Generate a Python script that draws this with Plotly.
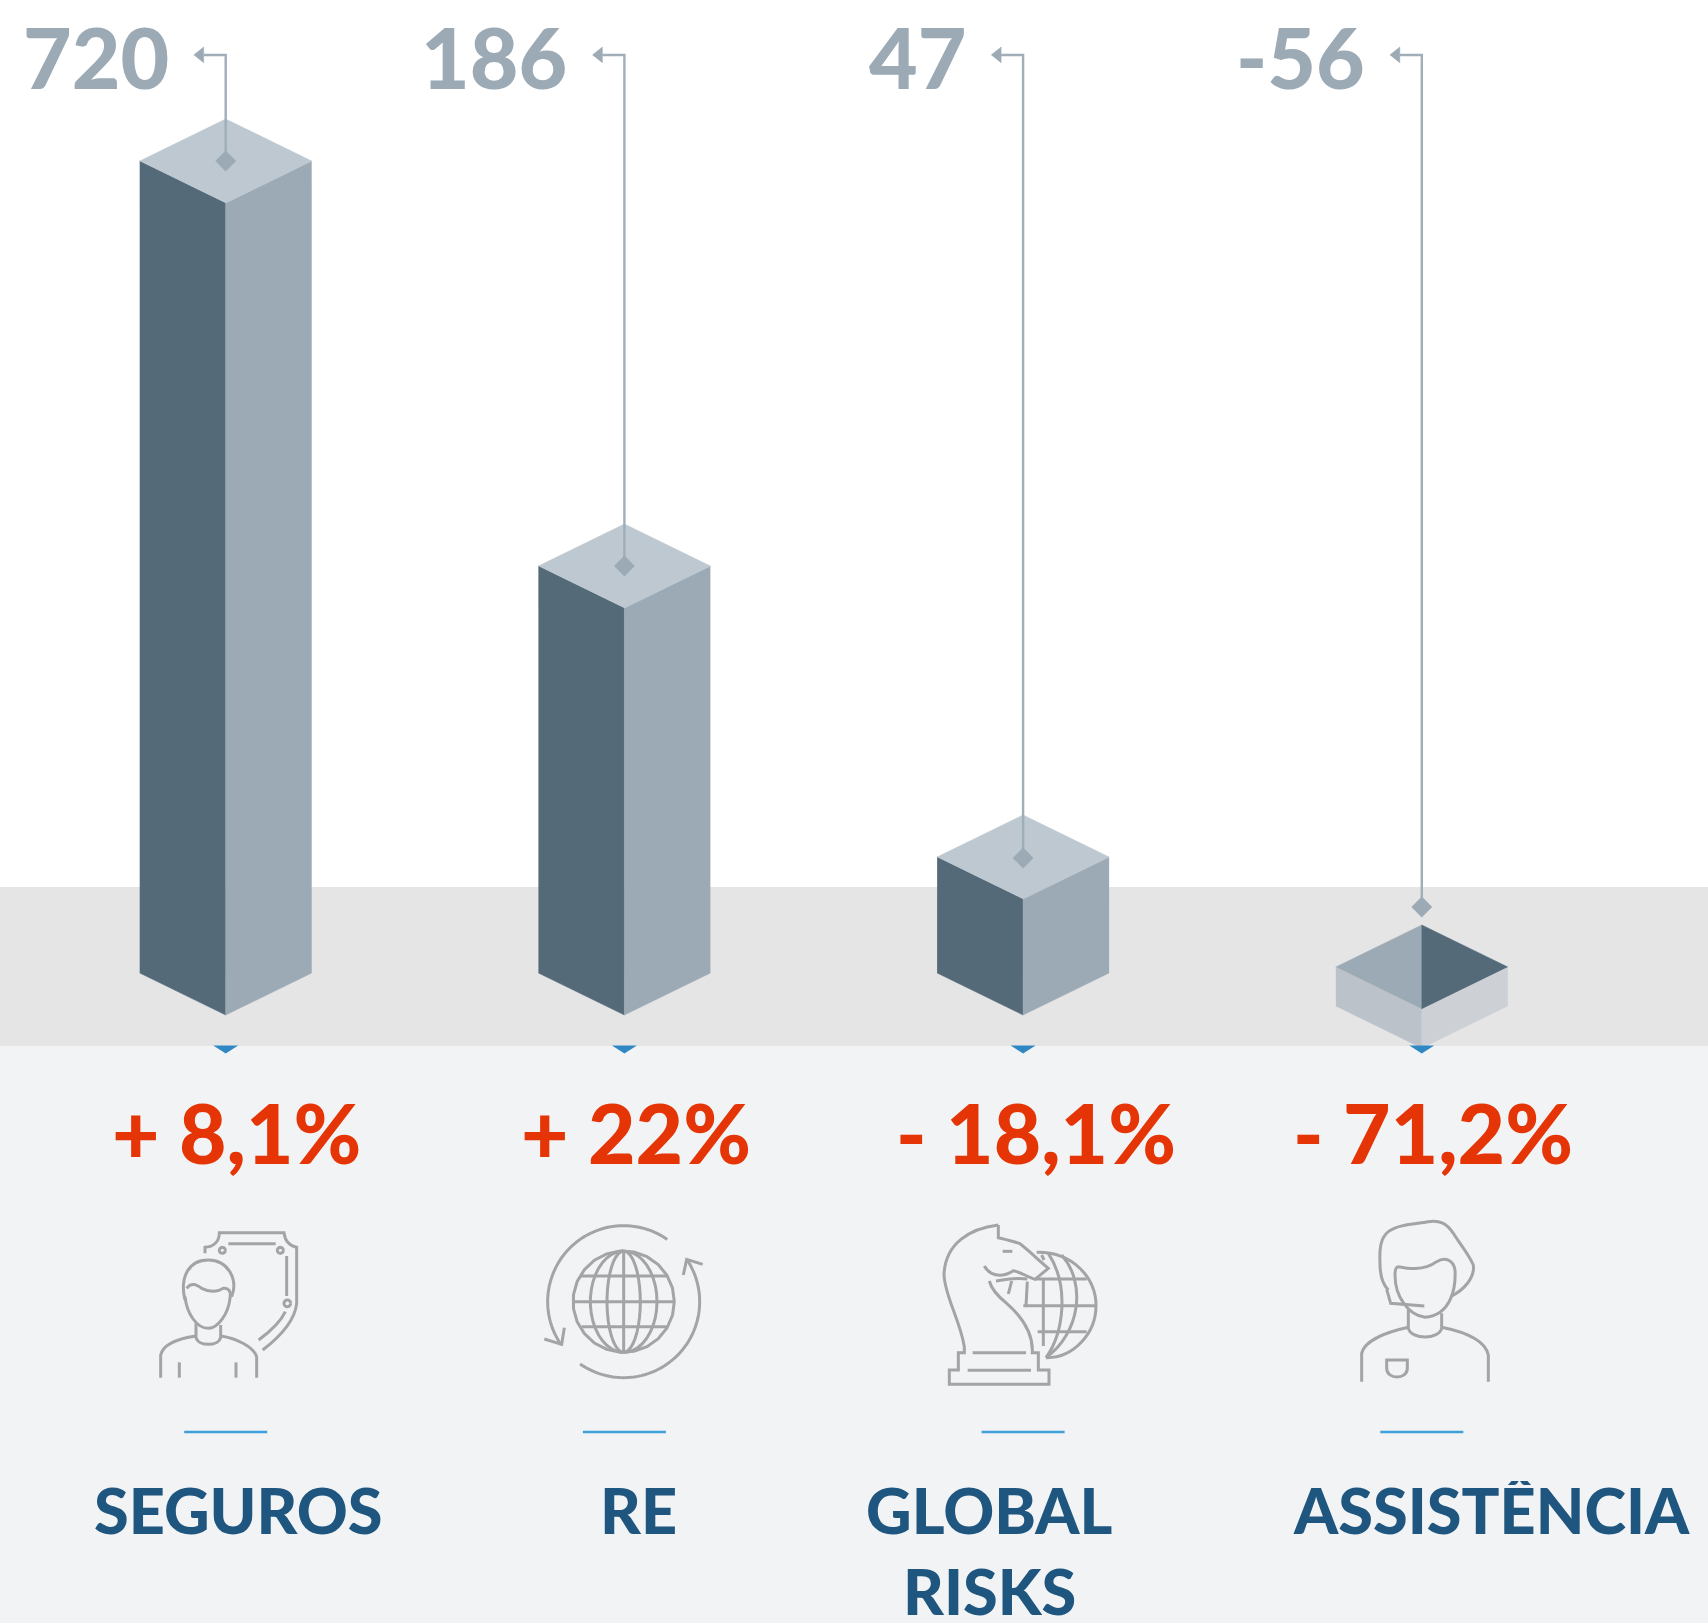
import re
import numpy as np
import plotly.graph_objects as go

# ---------- data ----------
categories = ["SEGUROS", "RE", "GLOBAL<br>RISKS", "ASSISTÊNCIA"]
values = [720, 186, 47, -56]
changes = ["+ 8,1%", "+ 22%", "- 18,1%", "- 71,2%"]
# drawn extent of each column on the picture's (non-proportional) height scale
column_high = [812, 407, 116, 6]
column_low = [0, 0, 0, -33]
marker_level = [812, 407, 115, 66]

# ---------- styles ----------
DARK, MID, LIGHT = "#546a79", "#9caab5", "#bdc8d1"
NEG_L, NEG_R = "#bcc2ca", "#cdd1d6"
LINE = "#a0aeba"
FONT = "Lato"
W, H = 1708, 1623
BASE_PX = 973
SPACING = 398.7
FIRST_PX = 225.7
HW = 86 / SPACING
DEPTH = 42
LEADER_TOP = BASE_PX - 55

fig = go.Figure()


def poly(xs, ys, color):
    fig.add_trace(go.Scatter(x=xs, y=ys, mode="lines", fill="toself", fillcolor=color,
                             line=dict(width=0.5, color=color), hoverinfo="skip", showlegend=False))


for i, (hi, lo) in enumerate(zip(column_high, column_low)):
    if values[i] >= 0:
        poly([i - HW, i, i, i - HW], [hi, hi - DEPTH, lo - DEPTH, lo], DARK)
        poly([i + HW, i, i, i + HW], [hi, hi - DEPTH, lo - DEPTH, lo], MID)
        poly([i - HW, i, i + HW, i], [hi, hi + DEPTH, hi, hi - DEPTH], LIGHT)
    else:
        poly([i - HW, i, i, i - HW], [hi, hi - DEPTH, lo - DEPTH, lo], NEG_L)
        poly([i + HW, i, i, i + HW], [hi, hi - DEPTH, lo - DEPTH, lo], NEG_R)
        poly([i - HW, i, i], [hi, hi + DEPTH, hi - DEPTH], MID)
        poly([i + HW, i, i], [hi, hi + DEPTH, hi - DEPTH], DARK)
    # leader line with arrow and diamond
    tip = i - 32 / SPACING
    fig.add_trace(go.Scatter(x=[i - 22 / SPACING, i, i], y=[LEADER_TOP, LEADER_TOP, marker_level[i]],
                             mode="lines", line=dict(color=LINE, width=2.4), hoverinfo="skip", showlegend=False))
    poly([tip, i - 22 / SPACING, i - 22 / SPACING], [LEADER_TOP, LEADER_TOP + 8, LEADER_TOP - 8], MID)
    fig.add_trace(go.Scatter(x=[i], y=[marker_level[i]], mode="markers",
                             marker=dict(symbol="diamond", size=16, color=MID, line=dict(width=0)),
                             hoverinfo="skip", showlegend=False))

# invisible trace that activates the overlay pixel axes used for decoration
fig.add_trace(go.Scatter(x=[0, W], y=[0, H], xaxis="x2", yaxis="y2", mode="markers",
                         marker=dict(opacity=0), hoverinfo="skip", showlegend=False))

shapes = []


def rect(x0, y0, x1, y1, color, layer="below"):
    shapes.append(dict(type="rect", xref="x2", yref="y2", x0=x0, y0=y0, x1=x1, y1=y1,
                       fillcolor=color, line=dict(width=0), layer=layer))


rect(0, 887, W, 1046, "#e5e5e5")
rect(0, 1046, W, H, "#f2f3f5")

for i in range(4):
    c = FIRST_PX + SPACING * i
    shapes.append(dict(type="path", xref="x2", yref="y2",
                       path=f"M{c-12.5},1045.5 L{c+12.5},1045.5 L{c},1053.5 Z",
                       fillcolor="#2f88c4", line=dict(width=0), layer="above"))
    shapes.append(dict(type="line", xref="x2", yref="y2", x0=c - 41.5, x1=c + 41.5, y0=1432, y1=1432,
                       line=dict(color="#3fa0dc", width=2.4), layer="above"))


def arc(cx, cy, rx, ry, a0, a1, n=60):
    t = np.radians(np.linspace(a0, a1, n))
    pts = [f"{cx + rx*np.cos(a):.1f},{cy + ry*np.sin(a):.1f}" for a in t]
    return "M" + " L".join(pts)


def circle(cx, cy, r):
    return arc(cx, cy, r, r, 0, 360, 24)


def icon(paths, ox, oy):
    for p in paths:
        def rp(m):
            return f"{ox + float(m.group(1))/3:.2f},{oy + float(m.group(2))/3:.2f}"
        d = re.sub(r"(-?[\d.]+),(-?[\d.]+)", rp, p)
        shapes.append(dict(type="path", xref="x2", yref="y2", path=d,
                           line=dict(color="#a3a4a6", width=3), layer="above"))


icon([
    "M225,160 L225,142 C250,140 268,125 268,98 L462,98 C465,125 480,138 500,142 L500,310 C495,360 450,410 398,450",
    "M295,131 L437,131", "M470,168 L470,288", "M466,335 C450,370 420,395 386,420",
    circle(277, 151, 9), circle(451, 151, 9), circle(472, 310, 10),
    "M165,300 C150,240 170,180 235,180 C295,180 325,240 305,290",
    "M170,265 C185,245 200,255 215,265 C240,278 265,275 280,265 C295,262 305,275 300,295 C295,340 265,385 235,385 C200,385 170,340 165,290",
    "M198,370 L198,412 C205,440 265,440 272,412 L272,375",
    "M92,533 L92,465 C100,430 150,415 198,408",
    "M272,408 C320,415 370,440 380,470 L380,533",
    "M148,487 L148,533", "M318,487 L318,533",
], 130, 1200)

icon([
    arc(311, 305, 228, 228, -55, -214.5), arc(311, 305, 228, 228, 125, -33.5),
    "M73,417 L125,433 L133,383", "M490,225 L500,178 L548,193",
    circle(311, 305, 152), arc(311, 305, 50, 152, 0, 360, 40), arc(311, 305, 100, 152, 0, 360, 40),
    "M311,153 L311,457", "M158,305 L465,305", "M183,228 L440,228", "M185,380 L440,380",
], 520, 1200)

icon([
    "M235,75 C150,85 75,130 72,225 C75,290 120,360 133,440 L133,458 L115,458 L115,510 L88,510 L88,553 L387,553 L387,510 L355,510 L355,458 L337,458 C340,395 300,345 260,310 C235,290 215,270 208,243",
    "M235,75 L235,113 C260,118 280,125 298,130 C325,150 360,185 385,205 L345,238 C320,230 300,215 280,212 C260,225 235,230 215,220 C205,215 198,207 193,198",
    "M248,154 L277,154", "M228,243 C260,238 285,232 322,237", "M275,243 L265,282", "M322,245 L318,318",
    "M158,458 L318,458", "M143,511 L333,511",
    "M350,157 C460,155 528,235 528,317 C528,400 460,475 378,473",
    "M365,165 L372,180", "M385,160 C450,260 430,400 378,473", "M425,165 C500,250 480,400 378,473",
    "M370,240 L370,438", "M345,237 L500,237", "M310,317 L525,317", "M353,395 L500,395",
], 920, 1200)

icon([
    "M365,288 C400,270 435,235 430,195 C415,160 385,125 370,100 C350,70 330,60 295,65 C260,72 205,72 175,95 C150,115 148,150 150,190 C150,225 160,255 175,270",
    "M205,200 C230,205 280,215 320,185 C345,170 370,180 375,210 C378,260 365,345 285,352 C235,345 195,290 195,225 C195,210 198,200 205,200",
    "M170,268 L182,310 L283,318",
    "M235,330 L235,385 C245,420 325,420 335,385 L335,340",
    "M95,545 L95,460 C105,420 175,395 235,382", "M335,382 C400,395 465,420 475,465 L475,545",
    "M170,480 L232,480 L232,505 C232,540 170,540 170,505 Z",
], 1330, 1200)

annotations = []


def text(x, y, s, size, color, anchor="center", height=None):
    annotations.append(dict(x=x, y=y, xref="x2", yref="y2", text=s, showarrow=False,
                            xanchor=anchor, yanchor="middle", height=height,
                            font=dict(family=FONT, size=size, color=color, weight=900)))


change_x = [236, 636, 1036, 1433]
label_x = [238, 638, 989, 1491]
for i in range(4):
    c = FIRST_PX + SPACING * i
    text(c - 55, 56, f"{values[i]}", 84, MID, "right")
    text(change_x[i], 1132, changes[i], 82, "#e53405")
    for k, line in enumerate(categories[i].split("<br>")):
        text(label_x[i], 1509 + 81 * k, line, 63, "#1f567f", height=56)

fig.update_layout(
    width=W, height=H, margin=dict(l=0, r=0, t=0, b=0), autosize=False,
    paper_bgcolor="#ffffff", plot_bgcolor="rgba(0,0,0,0)", showlegend=False,
    xaxis=dict(range=[-FIRST_PX / SPACING, (W - FIRST_PX) / SPACING], visible=False, fixedrange=True),
    yaxis=dict(range=[BASE_PX - H, BASE_PX], visible=False, fixedrange=True),
    xaxis2=dict(range=[0, W], overlaying="x", visible=False, fixedrange=True),
    yaxis2=dict(range=[H, 0], overlaying="y", visible=False, fixedrange=True),
    shapes=shapes, annotations=annotations,
)

fig.write_html("out.html", config=dict(displayModeBar=False),
               post_script="document.body.style.margin='0';document.documentElement.style.overflow='hidden';")
